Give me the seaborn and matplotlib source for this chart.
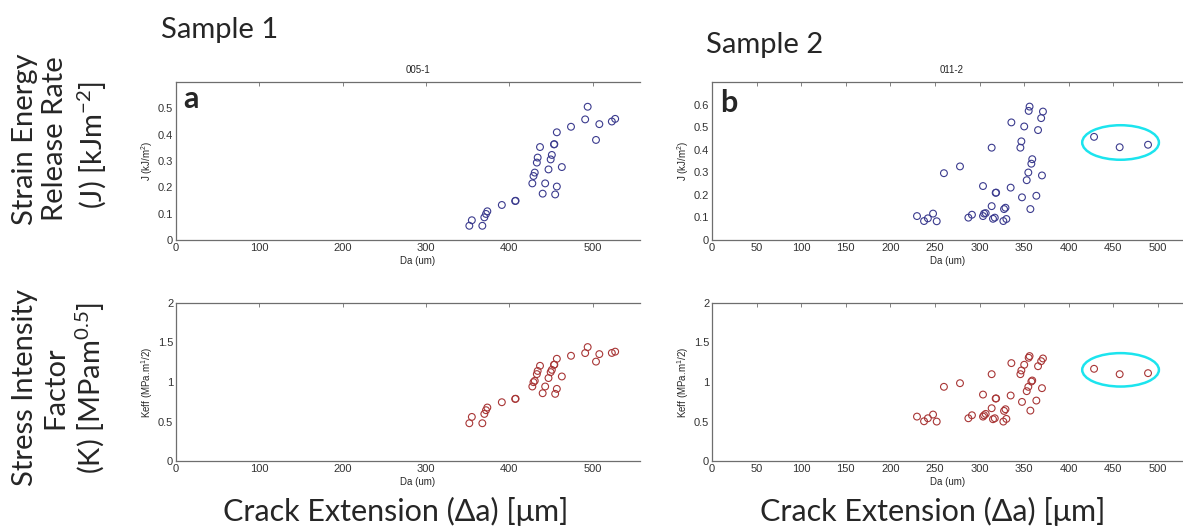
import matplotlib
matplotlib.use("Agg")
import matplotlib.pyplot as plt
from matplotlib.patches import Ellipse
import pandas as pd
import seaborn as sns

# ---- Sample 1 (specimen 005-1) ----
s1_da = [352, 355, 367.6, 370, 372, 373.6, 391, 407, 407.5, 427.6, 429, 430.5,
         433, 434, 436.8, 440, 443, 447, 449.6, 451, 453.6, 454, 455, 457, 457,
         463, 474, 491, 494, 504, 508, 523, 527]
s1_j = [0.054, 0.075, 0.054, 0.086, 0.099, 0.109, 0.133, 0.148, 0.149, 0.215,
        0.243, 0.256, 0.294, 0.313, 0.353, 0.176, 0.215, 0.268, 0.306, 0.323,
        0.363, 0.364, 0.173, 0.203, 0.409, 0.277, 0.430, 0.458, 0.506, 0.380,
        0.440, 0.450, 0.460]
s1_k = [0.478, 0.558, 0.478, 0.596, 0.643, 0.677, 0.744, 0.786, 0.788, 0.943,
        0.998, 1.015, 1.100, 1.140, 1.205, 0.858, 0.943, 1.050, 1.125, 1.154,
        1.218, 1.220, 0.850, 0.913, 1.294, 1.070, 1.332, 1.366, 1.442, 1.258,
        1.353, 1.368, 1.384]

# ---- Sample 2 (specimen 011-2) ----
s2_da = [229.8, 237.7, 242, 247.8, 251.9, 260, 278, 287.4, 291.4, 303.8, 303.8,
         305, 306.8, 313.5, 313.5, 315, 317, 318, 318.5, 326.6, 327.4, 329, 330,
         334.8, 335.6, 346.8, 345.7, 347.5, 350, 352.8, 354.6, 355, 356, 356.9,
         358, 359, 363.6, 365.5, 369, 369.9, 371, 428.3, 457, 488.8]
s2_j = [0.106, 0.084, 0.096, 0.117, 0.083, 0.296, 0.326, 0.099, 0.112, 0.239,
        0.106, 0.117, 0.119, 0.409, 0.150, 0.094, 0.099, 0.209, 0.210, 0.084,
        0.137, 0.143, 0.093, 0.232, 0.521, 0.437, 0.409, 0.189, 0.503, 0.265,
        0.299, 0.572, 0.591, 0.137, 0.338, 0.358, 0.196, 0.487, 0.540, 0.286,
        0.569, 0.457, 0.411, 0.422]
s2_k = [0.562, 0.503, 0.541, 0.588, 0.499, 0.939, 0.985, 0.541, 0.579, 0.841,
        0.562, 0.579, 0.596, 1.099, 0.668, 0.529, 0.541, 0.791, 0.792, 0.499,
        0.634, 0.655, 0.533, 0.829, 1.239, 1.146, 1.099, 0.748, 1.218, 0.884,
        0.939, 1.307, 1.328, 0.638, 1.006, 1.019, 0.765, 1.200, 1.264, 0.922,
        1.298, 1.167, 1.099, 1.112]

# highlighted late-extension group (centre x, centre y, width, height)
j_group = [458, 0.432, 86, 0.153]
k_group = [458, 1.154, 86, 0.423]

titles = ["005-1", "011-2"]
j_ticks = [[0, 0.1, 0.2, 0.3, 0.4, 0.5], [0, 0.1, 0.2, 0.3, 0.4, 0.5, 0.6]]
k_ticks = [0, 0.5, 1, 1.5, 2]
k_tick_labels = ["0", "0.5", "1", "1.5", "2"]
x_ticks = [[0, 100, 200, 300, 400, 500],
           [0, 50, 100, 150, 200, 250, 300, 350, 400, 450, 500]]

sns.set_style("white")
plt.rcParams["font.family"] = ["Liberation Sans", "DejaVu Sans"]
plt.rcParams["mathtext.default"] = "regular"

W, H = 1183, 528
fig = plt.figure(figsize=(W / 100, H / 100), dpi=100)


def box(left, right, top, bottom):
    return [left / W, 1 - bottom / H, (right - left) / W, (bottom - top) / H]


def fx(px):
    return px / W


def fy(py):
    return 1 - py / H


axes = {
    ("J", 0): fig.add_axes(box(176, 640, 82, 240)),
    ("K", 0): fig.add_axes(box(176, 640, 303, 461)),
    ("J", 1): fig.add_axes(box(712, 1183, 82, 240)),
    ("K", 1): fig.add_axes(box(712, 1183, 303, 461)),
}
xlims = [(0, 556.8), (0, 528)]
xlabel_x = [0.52, 0.5]
j_col = "#3b3b8e"
k_col = "#a83636"
frame_col = "#6e6e6e"

data = [
    pd.DataFrame({"Da": s1_da, "J": s1_j, "K": s1_k}),
    pd.DataFrame({"Da": s2_da, "J": s2_j, "K": s2_k}),
]

for i in range(2):
    df = data[i]
    for q, col in (("J", j_col), ("K", k_col)):
        ax = axes[(q, i)]
        sns.scatterplot(data=df, x="Da", y=q, ax=ax, marker="o", s=24,
                        facecolor="none", edgecolor=col, linewidth=0.8,
                        legend=False)
        ax.set_xlim(*xlims[i])
        ax.set_xticks(x_ticks[i])
        ax.set_xticklabels([str(t) for t in x_ticks[i]])
        if q == "J":
            ax.set_ylim(0, 0.6 if i == 0 else 0.7)
            ax.set_yticks(j_ticks[i])
            ax.set_yticklabels(["0"] + [f"{t:.1f}" for t in j_ticks[i][1:]])
            ax.set_ylabel("J (kJ/m$^2$)", fontsize=7, labelpad=2)
        else:
            ax.set_ylim(0, 2)
            ax.set_yticks(k_ticks)
            ax.set_yticklabels(k_tick_labels)
            ax.set_ylabel("Keff (MPa.m$^1$/2)", fontsize=7, labelpad=2)
        ax.set_xlabel("Da (um)", fontsize=7, labelpad=2, x=xlabel_x[i])
        ax.tick_params(direction="in", length=3, width=0.6, top=True,
                       labelsize=8, colors="#333333", pad=2)
        ax.spines["right"].set_visible(False)
        for side in ("left", "top", "bottom"):
            ax.spines[side].set_color(frame_col)
            ax.spines[side].set_linewidth(0.9)
        ax.tick_params(axis="both", color=frame_col)

    # cyan ring around the late-extension points of sample 2
    if i == 1:
        for q, g in (("J", j_group), ("K", k_group)):
            axes[(q, i)].add_patch(Ellipse((g[0], g[1]), g[2], g[3], fill=False,
                                           edgecolor="#1ce4ee", linewidth=1.8))

# specimen titles
fig.text(fx(418), fy(70), titles[0], fontsize=7, ha="center", va="center")
fig.text(fx(952), fy(70), titles[1], fontsize=7, ha="center", va="center")

# panel letters
big = ["Lato", "DejaVu Sans"]
axes[("J", 0)].text(7 / 464, 0.835, "a", transform=axes[("J", 0)].transAxes,
                    fontsize=22, fontweight="bold", family=big, va="baseline")
axes[("J", 1)].text(0.018, 0.81, "b", transform=axes[("J", 1)].transAxes,
                    fontsize=22, fontweight="bold", family=big, va="baseline")

# sample headings
fig.text(fx(220), fy(30), "Sample 1", fontsize=21, family=big,
         ha="center", va="center")
fig.text(fx(765), fy(45), "Sample 2", fontsize=21, family=big,
         ha="center", va="center")

# common x headings
fig.text(fx(396), fy(511), "Crack Extension (\u0394a) [\u03bcm]", fontsize=22,
         family=big, ha="center", va="center")
fig.text(fx(933), fy(511), "Crack Extension (\u0394a) [\u03bcm]", fontsize=22,
         family=big, ha="center", va="center")

# row headings
fig.text(fx(25), fy(139), "Strain Energy", fontsize=21, family=big,
         rotation=90, ha="center", va="center")
fig.text(fx(55), fy(139), "Release Rate", fontsize=21, family=big,
         rotation=90, ha="center", va="center")
fig.text(fx(92), fy(145), "(J) [kJm$^{-2}$]", fontsize=21, family=big,
         rotation=90, ha="center", va="center")
fig.text(fx(25), fy(388), "Stress Intensity", fontsize=21, family=big,
         rotation=90, ha="center", va="center")
fig.text(fx(55), fy(388), "Factor", fontsize=21, family=big,
         rotation=90, ha="center", va="center")
fig.text(fx(90), fy(388), "(K) [MPam$^{0.5}$]", fontsize=21, family=big,
         rotation=90, ha="center", va="center")

fig.savefig("out.png", dpi=100, facecolor="white")
